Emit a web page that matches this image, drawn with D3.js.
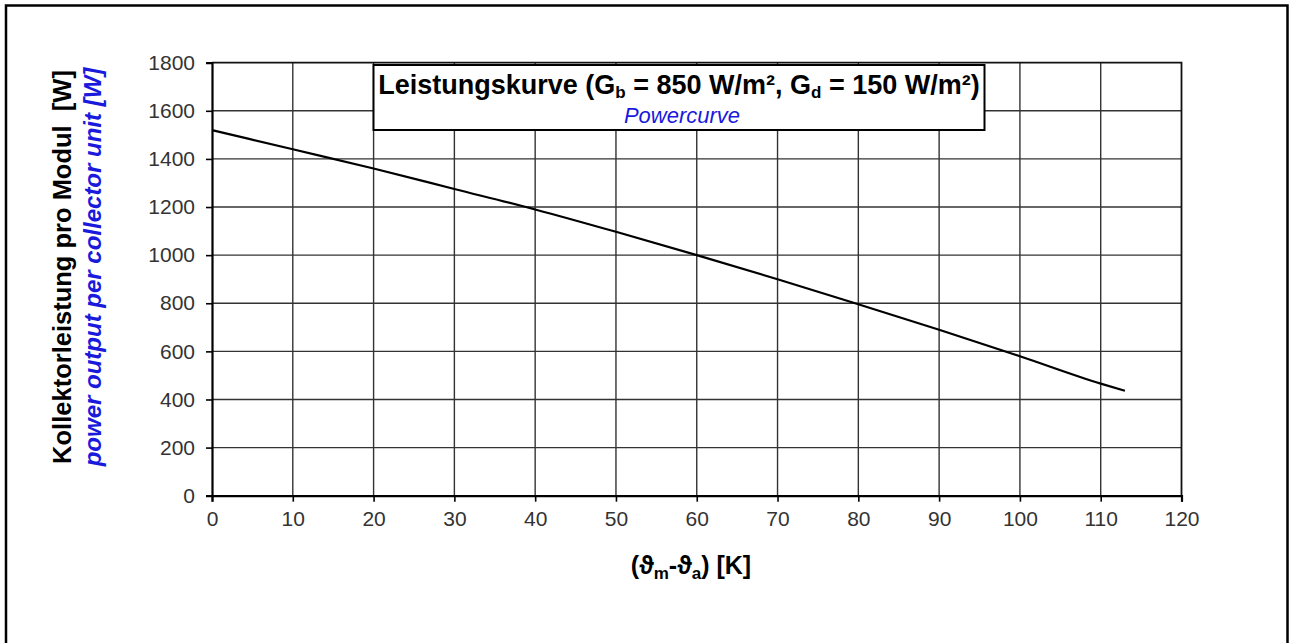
<!DOCTYPE html>
<html><head><meta charset="utf-8">
<script src="https://cdn.jsdelivr.net/npm/d3@7"></script>
<style>body{margin:0;background:#fff}svg{display:block}text{font-family:"Liberation Sans",Arial,sans-serif}</style>
</head><body><svg id="c" width="1290" height="643"></svg>
<script>
// data
const tempDiff = [0, 10, 20, 30, 40, 50, 60, 70, 80, 90, 100, 110, 113];
const power    = [1520, 1440, 1360, 1275, 1190, 1097, 1000, 900, 796, 690, 580, 466, 436];
const xTicks = [0,10,20,30,40,50,60,70,80,90,100,110,120];
const yTicks = [0,200,400,600,800,1000,1200,1400,1600,1800];

const svg = d3.select("#c");
const L = 212, R = 1181.5, T = 62.7, B = 495.7;
const x = d3.scaleLinear().domain([0,120]).range([L,R]);
const y = d3.scaleLinear().domain([0,1800]).range([B,T]);

// outer frame
svg.append("path").attr("d","M6,643 V5.5 H1287.5 V643").attr("fill","none").attr("stroke","#000").attr("stroke-width",2.5);

// grid
const g = svg.append("g");
g.selectAll("line.vg").data(xTicks.slice(1,-1)).enter().append("line")
  .attr("x1",d=>x(d)).attr("x2",d=>x(d)).attr("y1",T).attr("y2",B)
  .attr("stroke","#333").attr("stroke-width",1.4);
g.selectAll("line.hg").data(yTicks.slice(1,-1)).enter().append("line")
  .attr("x1",L).attr("x2",R).attr("y1",d=>y(d)).attr("y2",d=>y(d))
  .attr("stroke","#333").attr("stroke-width",1.4);
// top/right border
g.append("path").attr("d",`M${L},${T} H${R} V${B}`).attr("fill","none").attr("stroke","#111").attr("stroke-width",1.8);

// axes
const xa = svg.append("g").attr("transform",`translate(0,${B})`)
  .call(d3.axisBottom(x).tickValues(xTicks).tickFormat(d3.format("d")).tickSize(6).tickPadding(9));
const ya = svg.append("g").attr("transform",`translate(${L},0)`)
  .call(d3.axisLeft(y).tickValues(yTicks).tickFormat(d3.format("d")).tickSize(6).tickPadding(11));
[xa,ya].forEach(a=>{
  a.select(".domain").attr("stroke","#000").attr("stroke-width",2.2);
  a.selectAll(".tick line").attr("stroke","#000").attr("stroke-width",1.6);
  a.selectAll(".tick text").attr("font-size",21).attr("fill","#333")
    .attr("font-family","'Liberation Sans',Arial,sans-serif");
});

// curve
svg.append("path").datum(tempDiff.map((t,i)=>[t,power[i]]))
  .attr("d",d3.line().x(d=>x(d[0])).y(d=>y(d[1])).curve(d3.curveMonotoneX))
  .attr("fill","none").attr("stroke","#000").attr("stroke-width",2.2);

// title box
svg.append("rect").attr("x",373.5).attr("y",65).attr("width",611).attr("height",65)
  .attr("fill","#fff").attr("stroke","#000").attr("stroke-width",2);
const t1 = svg.append("text").attr("x",679).attr("y",94).attr("text-anchor","middle")
  .attr("font-size",27).attr("font-weight","bold").attr("fill","#000");
t1.append("tspan").text("Leistungskurve (G");
t1.append("tspan").text("b").attr("font-size",17).attr("dy",4);
t1.append("tspan").text(" = 850 W/m², G").attr("dy",-4);
t1.append("tspan").text("d").attr("font-size",17).attr("dy",4);
t1.append("tspan").text(" = 150 W/m²)").attr("dy",-4);
svg.append("text").attr("x",682).attr("y",123).attr("text-anchor","middle")
  .attr("font-size",22).attr("font-style","italic").attr("fill","#1a1adc").text("Powercurve");

// y titles
svg.append("text").attr("transform","translate(71,267) rotate(-90)").attr("text-anchor","middle")
  .attr("font-size",25.5).attr("font-weight","bold").attr("fill","#000")
  .text("Kollektorleistung pro Modul  [W]").attr("xml:space","preserve");
svg.append("text").attr("transform","translate(101,267) rotate(-90)").attr("text-anchor","middle")
  .attr("font-size",24).attr("font-weight","bold").attr("font-style","italic").attr("fill","#1a1adc")
  .text("power output per collector unit [W]");

// x title
const xt = svg.append("text").attr("x",691).attr("y",574).attr("text-anchor","middle")
  .attr("font-size",25).attr("font-weight","bold").attr("fill","#000");
xt.append("tspan").text("(ϑ");
xt.append("tspan").text("m").attr("font-size",17).attr("dy",5);
xt.append("tspan").text("-ϑ").attr("dy",-5);
xt.append("tspan").text("a").attr("font-size",17).attr("dy",5);
xt.append("tspan").text(") [K]").attr("dy",-5);
</script></body></html>
